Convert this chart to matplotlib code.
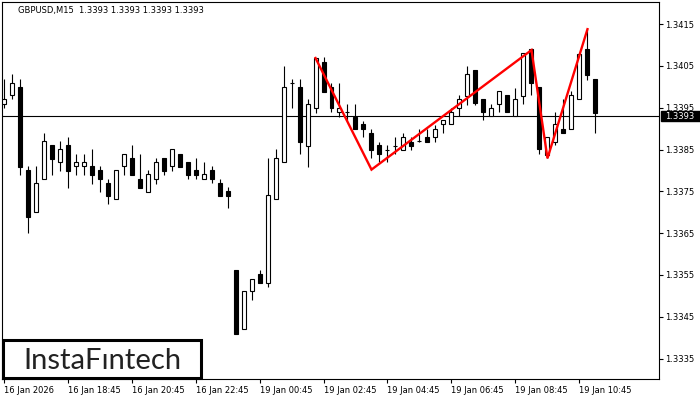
import matplotlib
matplotlib.use("Agg")
import matplotlib.pyplot as plt
from matplotlib.patches import Rectangle
import matplotlib.transforms as mtransforms

# ---- data ----
opens = [1.33959, 1.33980, 1.33999, 1.33801, 1.33700, 1.33779, 1.33861, 1.33820, 1.33861, 1.33810,
         1.33810, 1.33810, 1.33801, 1.33770, 1.33731, 1.33810, 1.33829, 1.33779, 1.33748, 1.33779,
         1.33829, 1.33810, 1.33839, 1.33820, 1.33801, 1.33779, 1.33801, 1.33770, 1.33751, 1.33562,
         1.33420, 1.33511, 1.33552, 1.33530, 1.33731, 1.33820, 1.34009, 1.33999, 1.33858, 1.33949,
         1.34059, 1.33999, 1.33940, 1.33940, 1.33928, 1.33911, 1.33889, 1.33861, 1.33849, 1.33858,
         1.33849, 1.33868, 1.33870, 1.33880, 1.33880, 1.33911, 1.33911, 1.33949, 1.33978, 1.34040,
         1.33971, 1.33930, 1.33959, 1.33980, 1.33930, 1.33978, 1.34090, 1.33999, 1.33837, 1.33868,
         1.33899, 1.33899, 1.33971, 1.34090, 1.34018]
highs = [1.34018, 1.34030, 1.34018, 1.33810, 1.33810, 1.33889, 1.33861, 1.33870, 1.33880, 1.33839,
         1.33839, 1.33851, 1.33810, 1.33779, 1.33801, 1.33839, 1.33861, 1.33839, 1.33801, 1.33829,
         1.33829, 1.33851, 1.33839, 1.33820, 1.33829, 1.33820, 1.33810, 1.33779, 1.33760, 1.33562,
         1.33511, 1.33540, 1.33562, 1.33829, 1.33851, 1.34050, 1.34018, 1.34018, 1.33971, 1.34069,
         1.34071, 1.34009, 1.34009, 1.33959, 1.33959, 1.33918, 1.33899, 1.33868, 1.33861, 1.33880,
         1.33889, 1.33880, 1.33899, 1.33899, 1.33908, 1.33920, 1.33949, 1.33980, 1.34050, 1.34040,
         1.33971, 1.33959, 1.33990, 1.33980, 1.33997, 1.34081, 1.34090, 1.33999, 1.33880, 1.33940,
         1.33971, 1.33990, 1.34081, 1.34138, 1.34018]
lows = [1.33949, 1.33971, 1.33789, 1.33650, 1.33700, 1.33779, 1.33789, 1.33798, 1.33758, 1.33789,
        1.33789, 1.33767, 1.33748, 1.33719, 1.33731, 1.33789, 1.33789, 1.33758, 1.33748, 1.33767,
        1.33789, 1.33798, 1.33808, 1.33779, 1.33779, 1.33779, 1.33770, 1.33739, 1.33710, 1.33408,
        1.33420, 1.33490, 1.33530, 1.33521, 1.33731, 1.33820, 1.33949, 1.33839, 1.33808, 1.33937,
        1.33987, 1.33940, 1.33928, 1.33918, 1.33899, 1.33880, 1.33829, 1.33820, 1.33820, 1.33839,
        1.33849, 1.33849, 1.33868, 1.33868, 1.33868, 1.33889, 1.33911, 1.33930, 1.33956, 1.33956,
        1.33920, 1.33930, 1.33940, 1.33940, 1.33930, 1.33959, 1.33980, 1.33839, 1.33829, 1.33861,
        1.33889, 1.33899, 1.33971, 1.34016, 1.33889]
closes = [1.33971, 1.34009, 1.33808, 1.33688, 1.33770, 1.33870, 1.33827, 1.33851, 1.33798, 1.33820,
          1.33820, 1.33789, 1.33779, 1.33739, 1.33801, 1.33839, 1.33789, 1.33758, 1.33791, 1.33820,
          1.33798, 1.33851, 1.33808, 1.33789, 1.33789, 1.33791, 1.33779, 1.33739, 1.33739, 1.33408,
          1.33511, 1.33540, 1.33530, 1.33741, 1.33829, 1.33999, 1.34009, 1.33868, 1.33959, 1.34069,
          1.33987, 1.33949, 1.33949, 1.33940, 1.33899, 1.33899, 1.33849, 1.33839, 1.33849, 1.33858,
          1.33880, 1.33858, 1.33870, 1.33868, 1.33899, 1.33920, 1.33940, 1.33971, 1.34030, 1.33961,
          1.33940, 1.33949, 1.33990, 1.33940, 1.33971, 1.34081, 1.34009, 1.33851, 1.33880, 1.33911,
          1.33889, 1.33980, 1.34078, 1.34028, 1.33937]

pattern_idx = [39, 46, 66, 68, 73]
pattern_price = [1.34069, 1.33802, 1.34088, 1.33829, 1.34138]

last_price = 1.3393
title_text = "GBPUSD,M15  1.3393 1.3393 1.3393 1.3393"

xtick_idx = [0, 8, 16, 24, 32, 40, 48, 56, 64, 72]
xtick_labels = ["16 Jan 2026", "16 Jan 18:45", "16 Jan 20:45", "16 Jan 22:45",
                "19 Jan 00:45", "19 Jan 02:45", "19 Jan 04:45", "19 Jan 06:45",
                "19 Jan 08:45", "19 Jan 10:45"]
ytick_vals = [1.3335, 1.3345, 1.3355, 1.3365, 1.3375, 1.3385, 1.3395, 1.3405, 1.3415]

plt.rcParams['font.family'] = ['DejaVu Sans']

fig = plt.figure(figsize=(7, 4), dpi=100)
ax = fig.add_axes([2 / 700, 21 / 400, 657 / 700, 377 / 400])

n = len(opens)
xs = list(range(n))
ax.vlines(xs, lows, highs, color='black', linewidth=0.8, zorder=2)
bottoms = [min(o, c) for o, c in zip(opens, closes)]
heights = [abs(c - o) for o, c in zip(opens, closes)]
colors = ['white' if c > o else 'black' for o, c in zip(opens, closes)]
ax.bar(xs, heights, bottom=bottoms, width=0.5, color=colors, edgecolor='black',
       linewidth=0.8, zorder=3)

ax.axhline(last_price, color='black', linewidth=0.8, zorder=1)
ax.plot(pattern_idx, pattern_price, color='#ff0000', linewidth=1.7, zorder=5,
        solid_joinstyle='miter')

ax.set_xlim(-0.19, 81.94)
ax.set_ylim(1.33301, 1.34203)

ax.yaxis.tick_right()
ax.set_yticks(ytick_vals)
ax.set_yticklabels([f"{v:.4f}" for v in ytick_vals])
ax.set_xticks(xtick_idx)
ax.set_xticklabels(xtick_labels)
for lbl in ax.get_xticklabels():
    lbl.set_horizontalalignment('left')
ax.tick_params(axis='both', direction='out', length=3, width=0.8, labelsize=6,
               pad=1.5, colors='black')
ax.tick_params(axis='x', pad=2)
for s in ax.spines.values():
    s.set_linewidth(0.8)
    s.set_color('black')

# current price label on the right
trans = mtransforms.blended_transform_factory(ax.transAxes, ax.transData)
ax.add_patch(Rectangle((1.003, last_price - 0.00012), 0.07, 0.00024, transform=trans,
                       facecolor='black', edgecolor='black', clip_on=False, zorder=20))
ax.text(1.0095, last_price, f"{last_price:.4f}", transform=trans, color='white',
        fontsize=6, va='center', ha='left', clip_on=False, zorder=21)

# title
fig.text(18 / 700, 1 - 10.5 / 400, title_text, fontsize=6, va='center', ha='left',
         color='black')

# logo box
fig.patches.append(Rectangle((3 / 700, 22 / 400), 198 / 700, 38 / 400,
                             transform=fig.transFigure, facecolor='white',
                             edgecolor='black', linewidth=2.2, zorder=10))
fig.text(102 / 700, 31 / 400, "InstaF\u0131ntech", family=['Lato', 'DejaVu Sans'],
         fontsize=21, color='#222222', ha='center', va='baseline', zorder=11)

fig.savefig("out.png", dpi=100)
